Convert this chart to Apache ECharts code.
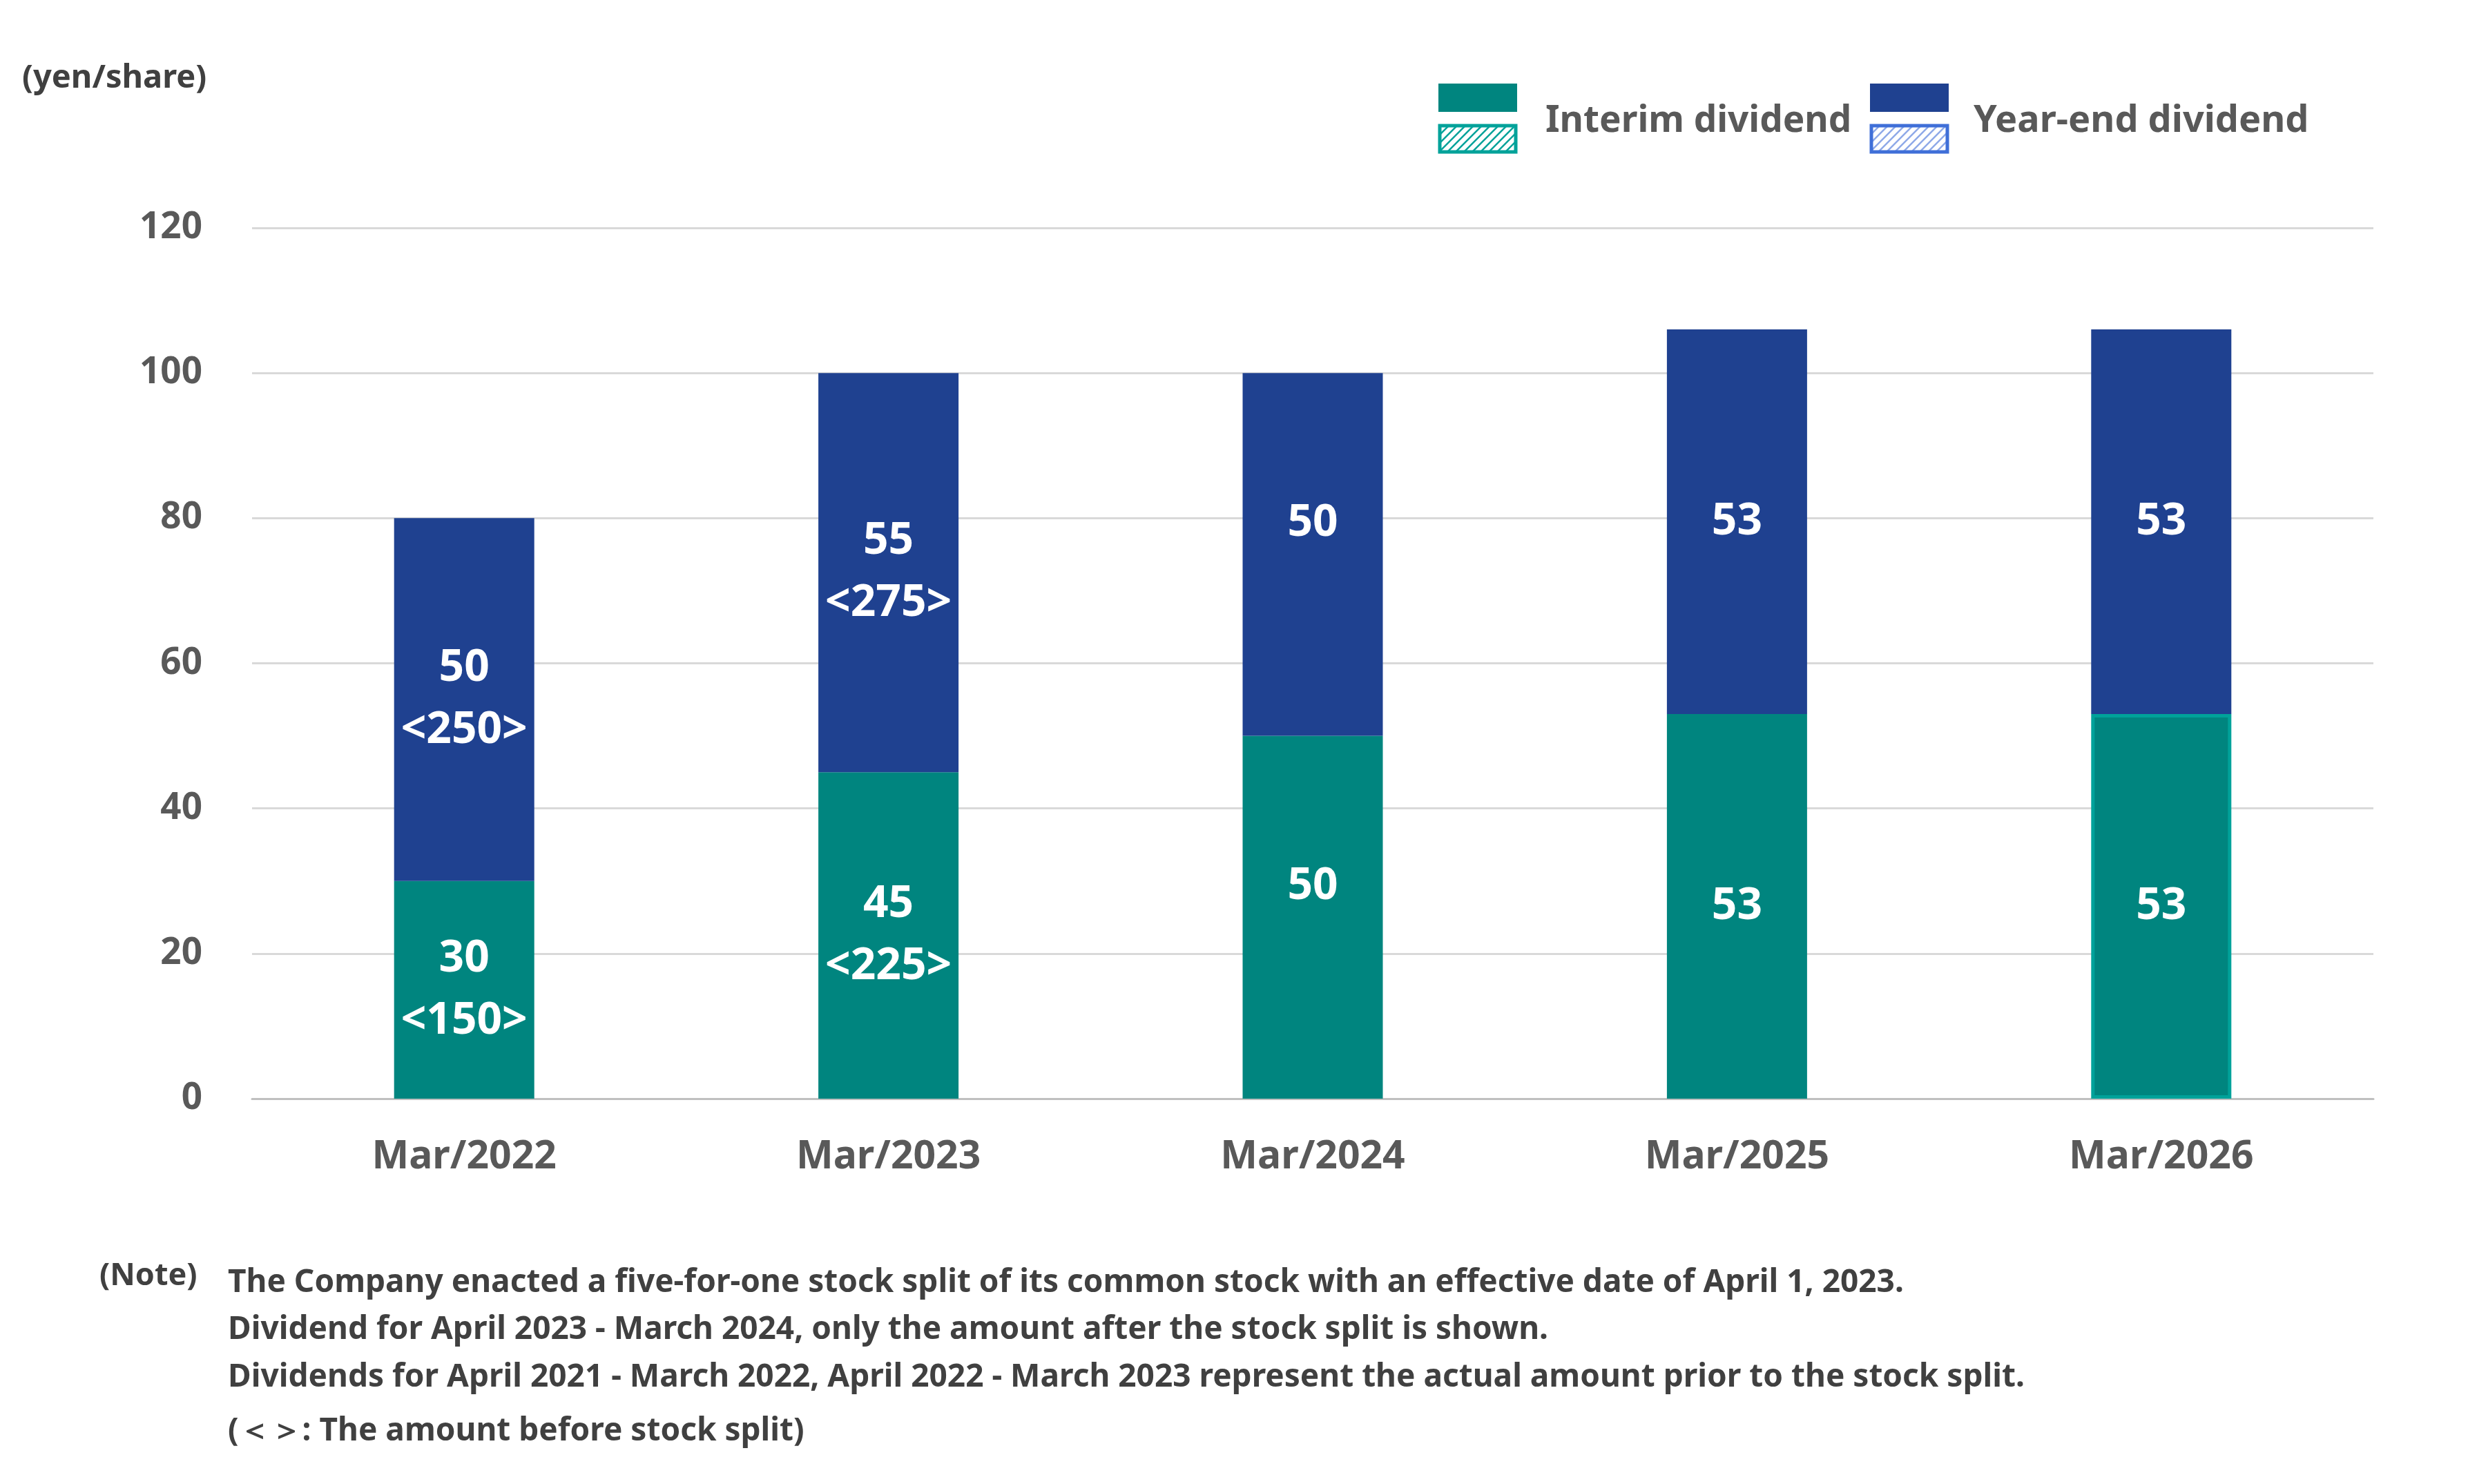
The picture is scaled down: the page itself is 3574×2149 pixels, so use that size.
<!DOCTYPE html>
<html>
<head>
<meta charset="utf-8">
<script src="https://cdn.jsdelivr.net/npm/echarts@6/dist/echarts.min.js"></script>
<style>
html,body{margin:0;padding:0;background:#fff;}
#chart{width:3574px;height:2149px;}
</style>
</head>
<body>
<div id="chart"></div>
<script>
const categories = ['Mar/2022', 'Mar/2023', 'Mar/2024', 'Mar/2025', 'Mar/2026'];
const interim = [30, 45, 50, 53, 53];
const yearEnd = [50, 55, 50, 53, 53];
// amounts before the stock split ('' = blank second label line, null = single-line label)
const interimPreSplit = [150, 225, '', null, null];
const yearEndPreSplit = [250, 275, '', null, null];
const yTicks = [0, 20, 40, 60, 80, 100, 120];
const noteLines = [
  'The Company enacted a five-for-one stock split of its common stock with an effective date of April 1, 2023.',
  'Dividend for April 2023 - March 2024, only the amount after the stock split is shown.',
  'Dividends for April 2021 - March 2022, April 2022 - March 2023 represent the actual amount prior to the stock split.',
  '(\uFF1C\uFF1E: The amount before stock split)'
];

const TEAL = '#00857F', BLUE = '#1F4190';
const FONT = '"Noto Sans", "Open Sans", sans-serif';

function hatch(color) {
  const c = document.createElement('canvas');
  c.width = 12; c.height = 12;
  const g = c.getContext('2d');
  g.fillStyle = '#fff'; g.fillRect(0, 0, 12, 12);
  g.strokeStyle = color; g.lineWidth = 2.5;
  g.beginPath();
  g.moveTo(0, 12); g.lineTo(12, 0);
  g.moveTo(-6, 6); g.lineTo(6, -6);
  g.moveTo(6, 18); g.lineTo(18, 6);
  g.stroke();
  return c;
}

function labelFor(vals, pre) {
  return p => {
    const v = vals[p.dataIndex], q = pre[p.dataIndex];
    if (q === null || q === undefined) return String(v);
    if (q === '') return v + '\n ';
    return v + '\n<' + q + '>';
  };
}

const chart = echarts.init(document.getElementById('chart'), null, {renderer: 'canvas'});
const labelStyle = {show: true, position: 'inside', color: '#fff', fontFamily: FONT, fontWeight: 'bold', fontSize: 64, lineHeight: 90};

const option = {
  animation: false,
  backgroundColor: '#fff',
  grid: {left: 365, right: 137, top: 330, bottom: 558},
  xAxis: {
    type: 'category', data: categories,
    axisLine: {lineStyle: {color: '#BFBFBF', width: 3}},
    axisTick: {show: false},
    axisLabel: {color: '#595959', fontFamily: FONT, fontWeight: 'bold', fontSize: 57, margin: 56}
  },
  yAxis: {
    type: 'value', min: yTicks[0], max: yTicks[yTicks.length - 1], interval: 20,
    axisLine: {show: false}, axisTick: {show: false},
    splitLine: {lineStyle: {color: '#D9D9D9', width: 3}},
    axisLabel: {color: '#595959', fontFamily: FONT, fontWeight: 'bold', fontSize: 53, margin: 72}
  },
  series: [
    {
      name: 'Interim dividend', type: 'bar', stack: 'div', barWidth: 203,
      data: interim.map((v, i) => categories[i] === 'Mar/2026'
        ? {value: v, itemStyle: {color: TEAL, borderColor: '#00A29A', borderWidth: 5}}
        : {value: v}),
      itemStyle: {color: TEAL},
      label: Object.assign({}, labelStyle, {formatter: labelFor(interim, interimPreSplit)})
    },
    {
      name: 'Year-end dividend', type: 'bar', stack: 'div', barWidth: 203,
      data: yearEnd,
      itemStyle: {color: BLUE},
      label: Object.assign({}, labelStyle, {formatter: labelFor(yearEnd, yearEndPreSplit)})
    }
  ],
  graphic: [
    {type: 'text', left: 32, top: 90, style: {text: '(yen/share)', fill: '#404040', font: 'bold 47px ' + FONT}},
    {type: 'rect', shape: {x: 2083, y: 121, width: 114, height: 41}, style: {fill: TEAL}},
    {type: 'rect', shape: {x: 2085, y: 182, width: 110, height: 38}, style: {fill: {image: hatch('#00A29A'), repeat: 'repeat'}, stroke: '#00A29A', lineWidth: 5}},
    {type: 'text', left: 2238, top: 149, style: {text: 'Interim dividend', fill: '#595959', font: 'bold 53px ' + FONT}},
    {type: 'rect', shape: {x: 2708, y: 121, width: 114, height: 41}, style: {fill: BLUE}},
    {type: 'rect', shape: {x: 2710, y: 182, width: 110, height: 38}, style: {fill: {image: hatch('#8FA9E8'), repeat: 'repeat'}, stroke: '#3F6FD8', lineWidth: 5}},
    {type: 'text', left: 2858, top: 149, style: {text: 'Year-end dividend', fill: '#595959', font: 'bold 54px ' + FONT}},
    {type: 'text', left: 144, top: 1826, style: {text: '(Note)', fill: '#404040', font: 'bold 45px ' + FONT}}
  ].concat(noteLines.map((t, i) => ({
    type: 'text', left: 330, top: [1835, 1903, 1972, 2050][i],
    style: {text: t, fill: '#404040', font: 'bold 46px ' + FONT}
  })))
};
chart.setOption(option);
</script>
</body>
</html>
